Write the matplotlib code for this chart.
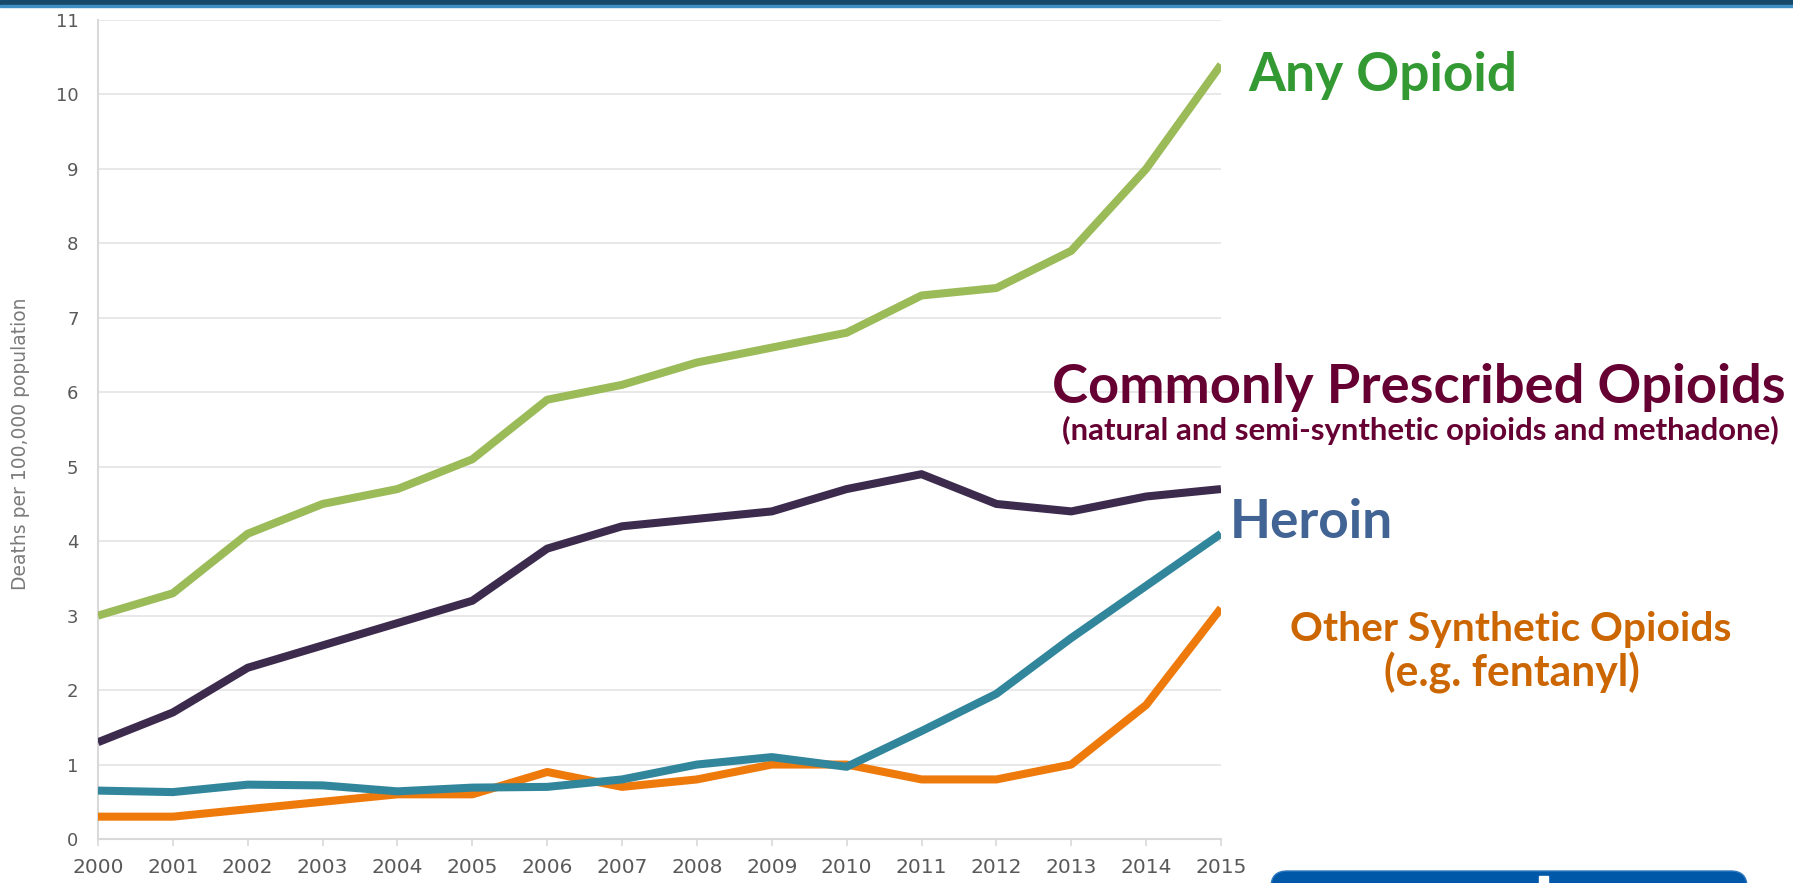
import matplotlib
matplotlib.use("Agg")
import matplotlib.pyplot as plt
from matplotlib.patches import Rectangle, FancyBboxPatch
from matplotlib.transforms import IdentityTransform

years = list(range(2000, 2016))
any_opioid = [3.0, 3.3, 4.1, 4.5, 4.7, 5.1, 5.9, 6.1, 6.4, 6.6, 6.8, 7.3, 7.4, 7.9, 9.0, 10.4]
prescribed = [1.3, 1.7, 2.3, 2.6, 2.9, 3.2, 3.9, 4.2, 4.3, 4.4, 4.7, 4.9, 4.5, 4.4, 4.6, 4.7]
heroin = [0.65, 0.63, 0.73, 0.72, 0.64, 0.69, 0.70, 0.80, 1.0, 1.1, 0.97, 1.45, 1.95, 2.7, 3.4, 4.1]
synthetic = [0.3, 0.3, 0.4, 0.5, 0.6, 0.6, 0.9, 0.7, 0.8, 1.0, 1.0, 0.8, 0.8, 1.0, 1.8, 3.1]
y_ticks = list(range(0, 12))
y_label = "Deaths per 100,000 population"

W, H = 1793, 883
fig = plt.figure(figsize=(W / 100, H / 100), dpi=100)
fig.patch.set_facecolor("white")

def fx(px):
    return px / W

def fy(py):
    return 1 - py / H

ax = fig.add_axes([fx(98), fy(839), fx(1221) - fx(98), fy(20) - fy(839)])
ax.set_xlim(2000, 2015)
ax.set_ylim(0, 11)

lw = 5.8
ax.plot(years, any_opioid, color="#9BBB59", lw=lw, solid_capstyle="butt", solid_joinstyle="round", zorder=3)
ax.plot(years, prescribed, color="#3D2B4E", lw=lw, solid_capstyle="butt", solid_joinstyle="round", zorder=3)
ax.plot(years, synthetic, color="#EE7A0C", lw=lw, solid_capstyle="butt", solid_joinstyle="round", zorder=3)
ax.plot(years, heroin, color="#31869C", lw=lw, solid_capstyle="butt", solid_joinstyle="round", zorder=4)

ax.set_yticks(y_ticks)
ax.set_xticks(years)
ax.grid(axis="y", color="#E6E6E6", lw=1.3, zorder=0)
for s in ["top", "right"]:
    ax.spines[s].set_visible(False)
for s in ["left", "bottom"]:
    ax.spines[s].set_color("#D9D9D9")
    ax.spines[s].set_linewidth(1.5)
ax.tick_params(axis="y", length=0, pad=14, labelsize=13, labelcolor="#595959")
ax.tick_params(axis="x", length=5, width=1.2, color="#D9D9D9", pad=9, labelsize=14.5, labelcolor="#595959")
ax.set_clip_on(False)

fig.text(fx(21), fy(444), y_label, rotation=90, ha="center", va="center",
         fontsize=13.5, color="#7A7A7A")

# annotations
bold = ["Lato", "Open Sans", "DejaVu Sans"]
labels = [
    ("Any Opioid", 1248, 91, 269, "left", "#339933", 40),
    ("Commonly Prescribed Opioids", 1052, 403, 734, "left", "#660033", 38),
    ("(natural and semi-synthetic opioids and methadone)", 1420, 440, 717, "center", "#660033", 17),
    ("Heroin", 1230, 538, 163, "left", "#416494", 36),
    ("Other Synthetic Opioids", 1511, 641, 441, "center", "#CC6600", 28),
    ("(e.g. fentanyl)", 1512, 687, 256, "center", "#CC6600", 28),
]
texts = []
for txt, x, y, w, ha, col, fs in labels:
    t = fig.text(fx(x), fy(y), txt, ha=ha, va="baseline", color=col,
                 family=bold, fontweight="bold", fontsize=fs)
    texts.append((t, w))
fig.canvas.draw()
r = fig.canvas.get_renderer()
for t, w in texts:
    bb = t.get_window_extent(r)
    t.set_fontsize(t.get_fontsize() * w / bb.width)

# top banner
fig.patches.append(Rectangle((0, H - 5), W, 5, transform=IdentityTransform(), color="#17496B", zorder=10))
fig.patches.append(Rectangle((0, H - 7), W, 2, transform=IdentityTransform(), color="#3F8FC2", zorder=10))

# bottom-right blue box
box = FancyBboxPatch((1271, -30), 1747 - 1271, 30 + (H - 871), boxstyle="round,pad=0,rounding_size=16",
                     transform=IdentityTransform(), facecolor="#0058A8", edgecolor="#2E78C0", lw=1, zorder=10)
fig.patches.append(box)
fig.patches.append(Rectangle((1539, 0), 9, H - 876, transform=IdentityTransform(), color="white", zorder=11))

fig.savefig("out.png", dpi=100, facecolor="white")
